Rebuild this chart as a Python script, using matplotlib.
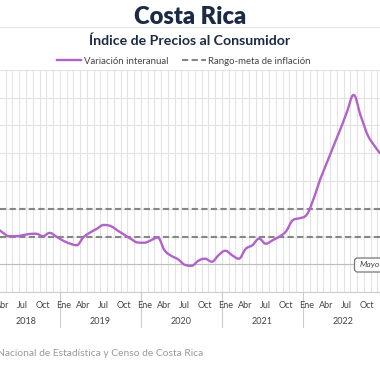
import numpy as np
import matplotlib
matplotlib.use("Agg")
import matplotlib.pyplot as plt
import matplotlib.transforms as mtransforms
from matplotlib.lines import Line2D
from matplotlib.patches import FancyBboxPatch

plt.rcParams['font.family'] = ['Lato', 'DejaVu Sans']

# datos: variación interanual del IPC (%), marzo 2018 - diciembre 2022
anio_inicio = 2018
mes_inicio = 3
variacion = [2.67, 2.31, 2.02, 2.02, 2.09, 2.18, 2.20, 2.02, 2.26, 1.99,
             1.70, 1.49, 1.37, 1.95, 2.29, 2.56, 2.83, 2.76, 2.45, 2.13, 1.84, 1.57,
             1.55, 1.73, 1.93, 1.01, 0.61, 0.36, -0.04, -0.11, 0.25, 0.40, 0.18, 0.65,
             0.97, 0.65, 0.40, 1.10, 1.37, 1.84, 1.48, 1.73, 1.99, 2.38, 3.18, 3.32,
             3.54, 4.62, 6.06, 7.26, 8.50, 9.68, 10.97, 12.20, 10.76, 9.39, 8.59, 7.94]
meta_inferior = 2
meta_superior = 4
meses_cortos = {1: 'Ene', 4: 'Abr', 7: 'Jul', 10: 'Oct'}

# indice de mes (0 = ene 2018) y posicion centrada en la categoria
idx = np.arange(len(variacion)) + (anio_inicio - 2018) * 12 + (mes_inicio - 1)
xs = idx + 0.5
ys = np.array(variacion, dtype=float)


def spline_highcharts(x, y, n=30, smoothing=1.5):
    denom = smoothing + 1
    lc = np.column_stack([x, y]).astype(float)
    rc = lc.copy()
    for i in range(1, len(x) - 1):
        px, py = x[i], y[i]
        lx, ly = x[i - 1], y[i - 1]
        nx, ny = x[i + 1], y[i + 1]
        lcx = (smoothing * px + lx) / denom
        lcy = (smoothing * py + ly) / denom
        rcx = (smoothing * px + nx) / denom
        rcy = (smoothing * py + ny) / denom
        corr = ((rcy - lcy) * (rcx - px)) / (rcx - lcx) + py - rcy
        lcy += corr
        rcy += corr
        if lcy > ly and lcy > py:
            lcy = max(ly, py); rcy = 2 * py - lcy
        elif lcy < ly and lcy < py:
            lcy = min(ly, py); rcy = 2 * py - lcy
        if rcy > ny and rcy > py:
            rcy = max(ny, py); lcy = 2 * py - rcy
        elif rcy < ny and rcy < py:
            rcy = min(ny, py); lcy = 2 * py - rcy
        lc[i] = (lcx, lcy)
        rc[i] = (rcx, rcy)
    t = np.linspace(0, 1, n)[:, None]
    out = []
    for i in range(len(x) - 1):
        p0 = np.array([x[i], y[i]]); p3 = np.array([x[i + 1], y[i + 1]])
        p1 = rc[i]; p2 = lc[i + 1]
        seg = ((1 - t) ** 3) * p0 + 3 * ((1 - t) ** 2) * t * p1 + 3 * (1 - t) * t ** 2 * p2 + t ** 3 * p3
        out.append(seg if i == 0 else seg[1:])
    out = np.vstack(out)
    return out[:, 0], out[:, 1]


W = H = 380
fig = plt.figure(figsize=(3.8, 3.8), dpi=100)
ax = fig.add_axes([0, 1 - 292 / H, 1, 222 / H])

for s in ax.spines.values():
    s.set_visible(False)
ax.spines['bottom'].set_visible(True)
ax.spines['bottom'].set_color('#cccccc')
ax.spines['bottom'].set_linewidth(0.8)

ax.set_xticks(np.arange(0, 62))
ax.set_yticks(np.arange(-2, 15, 2))
ax.tick_params(length=0, labelbottom=False, labelleft=False)
ax.grid(True, color='#e3e3e3', linewidth=0.8)
ax.set_axisbelow(True)

# escala horizontal: el grafico original esta recortado a ambos lados
ax.set_xlim((0 + 21.3) / 6.756, (380 + 21.3) / 6.756)
ax.set_ylim(-2, 14)

ax.axhline(0, color='#bdbdbd', linewidth=0.8, zorder=1)
ax.axhline(meta_inferior, color='#868686', linewidth=1.5, dashes=(3, 1.6), zorder=2)
ax.axhline(meta_superior, color='#868686', linewidth=1.5, dashes=(3, 1.6), zorder=2)

sx, sy = spline_highcharts(xs, ys)
ax.plot(sx, sy, color='#b162cb', linewidth=1.7, zorder=3, solid_capstyle='round')

# etiquetas del eje x
trans = mtransforms.blended_transform_factory(ax.transData, ax.transAxes)
for i, x in zip(idx, xs):
    mes = i % 12 + 1
    if mes in meses_cortos:
        ax.text(x, (292 - 305) / 222, meses_cortos[mes], transform=trans, ha='center',
                va='center', fontsize=6.5, color='#444444', clip_on=False)
anios = idx // 12 + 2018
for a in np.unique(anios):
    ax.text(xs[anios == a].mean(), (292 - 322) / 222, str(a), transform=trans, ha='center',
            va='center', fontsize=6.5, color='#444444', clip_on=False)
    ax.plot([(a - 2018) * 12] * 2, [0, (292 - 327) / 222], transform=trans, color='#cccccc',
            linewidth=0.8, clip_on=False)

# titulos
fig.text(0.5, 1 - 17 / H, 'Costa Rica', ha='center', va='center', fontsize=17,
         fontweight='heavy', color='#1c2a45')
fig.add_artist(Line2D([0, 1], [1 - 26.5 / H] * 2, color='#e8e8e8', linewidth=0.8))
fig.text(0.5, 1 - 41 / H, 'Índice de Precios al Consumidor', ha='center', va='center',
         fontsize=10.2, fontweight='bold', color='#1c2a45')

handles = [Line2D([], [], color='#b162cb', linewidth=1.7),
           Line2D([], [], color='#868686', linewidth=1.5, dashes=(3, 1.6))]
fig.legend(handles, ['Variación interanual', 'Rango-meta de inflación'], loc='center',
           bbox_to_anchor=(184 / W, 1 - 61 / H), ncol=2, frameon=False, fontsize=6.9,
           handlelength=2.5, handletextpad=0.25, columnspacing=1.4, labelcolor='#444444')

# etiqueta del ultimo dato (recortada en el original)
fig.add_artist(FancyBboxPatch((354.5 / W, 1 - 272 / H), 40 / W, 14 / H,
                              boxstyle='round,pad=0,rounding_size=0.008',
                              fc='white', ec='#777777', lw=0.9, zorder=5))
fig.text(360 / W, 1 - 265 / H, 'Mayo', ha='left', va='center', fontsize=6.1,
         style='italic', color='#444444', zorder=6)

fig.text(203 / W, 1 - 353 / H, 'Fuente: Instituto Nacional de Estadística y Censo de Costa Rica',
         ha='right', va='center', fontsize=7.4, color='#9a9a9a')

fig.savefig('out.png', dpi=100)
